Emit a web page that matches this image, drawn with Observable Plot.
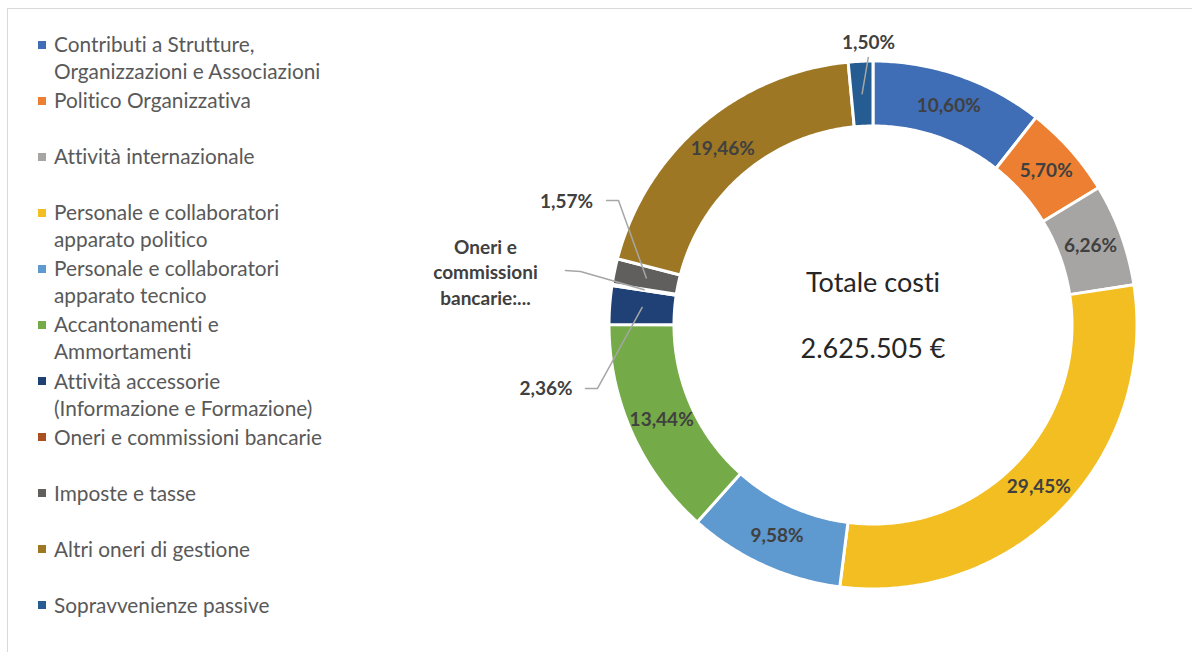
<!DOCTYPE html>
<html>
<head>
<meta charset="utf-8">
<script src="https://cdn.jsdelivr.net/npm/d3@7"></script>
<script src="https://cdn.jsdelivr.net/npm/@observablehq/plot@0.6"></script>
<style>
  body { margin: 0; background: #fff; }
  #wrap { position: relative; width: 1192px; height: 652px; overflow: hidden; font-family: Lato, sans-serif; font-variant-ligatures: none; }
  #frame { position: absolute; left: 7px; top: 8px; right: -10px; bottom: -10px; border-top: 1.5px solid #d9d9d9; border-left: 1.5px solid #d9d9d9; }
  #chart { position: absolute; left: 0; top: 0; }
  #chart svg text { font-variant-ligatures: none; }
  #legend { position: absolute; left: 38px; top: 30px; }
  .item { height: 56.1px; display: flex; align-items: flex-start; }
  .sw { width: 8px; height: 8px; margin-top: 10.5px; flex: none; }
  .txt { margin-left: 8px; line-height: 27px; font-size: 20.8px; color: #595959; white-space: pre; }
</style>
</head>
<body>
<div id="wrap">
  <div id="frame"></div>
  <div id="legend"></div>
  <div id="chart"></div>
</div>
<script>
// ---- data ----
const categories = [
  "Contributi a Strutture, Organizzazioni e Associazioni",
  "Politico Organizzativa",
  "Attività internazionale",
  "Personale e collaboratori apparato politico",
  "Personale e collaboratori apparato tecnico",
  "Accantonamenti e Ammortamenti",
  "Attività accessorie (Informazione e Formazione)",
  "Oneri e commissioni bancarie",
  "Imposte e tasse",
  "Altri oneri di gestione",
  "Sopravvenienze passive"
];
const legendLabels = [
  "Contributi a Strutture,\nOrganizzazioni e Associazioni",
  "Politico Organizzativa",
  "Attività internazionale",
  "Personale e collaboratori\napparato politico",
  "Personale e collaboratori\napparato tecnico",
  "Accantonamenti e\nAmmortamenti",
  "Attività accessorie\n(Informazione e Formazione)",
  "Oneri e commissioni bancarie",
  "Imposte e tasse",
  "Altri oneri di gestione",
  "Sopravvenienze passive"
];
const values = [10.60, 5.70, 6.26, 29.45, 9.58, 13.44, 2.36, 0.08, 1.57, 19.46, 1.50];
const colors = ["#3F6DB6", "#EC7F31", "#A6A5A3", "#F3BE21", "#5E99CF", "#74AA47", "#1F4176", "#A8501F", "#615F5E", "#9D7724", "#255C91"];
const centerTitle = "Totale costi";
const totalCosti = 2625505;

// callout (outside) label layout, in ring units (outer radius = 1)
const callouts = [
  {i: 10, lu: -0.017, lv: 1.074, anchor: "middle", path: [[-0.018, 1.013]]},
  {i: 8, lu: -1.060, lv: 0.466, anchor: "end", path: [[-1.009, 0.472], [-0.964, 0.472]]},
  {i: 7, lu: -1.468, lv: 0.203, anchor: "middle", path: [[-1.165, 0.206], [-1.108, 0.203]], text: "Oneri e\ncommissioni\nbancarie:..."},
  {i: 6, lu: -1.138, lv: -0.241, anchor: "end", path: [[-1.089, -0.241], [-1.044, -0.241]]}
];

// ---- legend ----
const legend = document.getElementById("legend");
categories.forEach((c, i) => {
  const it = document.createElement("div"); it.className = "item";
  const sw = document.createElement("div"); sw.className = "sw"; sw.style.background = colors[i];
  const tx = document.createElement("div"); tx.className = "txt"; tx.textContent = legendLabels[i];
  it.append(sw, tx); legend.append(it);
});

// ---- geometry ----
const W = 1192, H = 652, cx = 872.5, cy = 324.5, Rpx = 264;
const rIn = 199 / 264, rMid = (1 + rIn) / 2;
const rows = categories.map((name, i) => ({name, value: values[i], i}));
const arcs = d3.pie().sort(null).value(d => d.value)(rows);
const pct = v => v.toFixed(2).replace(".", ",") + "%";

const ringPts = arcs.flatMap(a => {
  const n = Math.max(2, Math.ceil((a.endAngle - a.startAngle) / 0.01));
  const ts = d3.range(n + 1).map(k => a.startAngle + (a.endAngle - a.startAngle) * k / n);
  const outer = ts.map(t => ({name: a.data.name, u: Math.sin(t), v: Math.cos(t)}));
  const inner = ts.slice().reverse().map(t => ({name: a.data.name, u: rIn * Math.sin(t), v: rIn * Math.cos(t)}));
  return [...outer, ...inner];
});

const centroids = arcs.map(a => {
  const t = (a.startAngle + a.endAngle) / 2;
  return {i: a.data.i, name: a.data.name, u: rMid * Math.sin(t), v: rMid * Math.cos(t), label: pct(a.data.value)};
});
const calloutIdx = new Set(callouts.map(c => c.i));
const insideLabels = centroids.filter(d => !calloutIdx.has(d.i));
const outsideLabels = callouts.map(c => ({u: c.lu, v: c.lv, anchor: c.anchor, label: c.text ?? centroids[c.i].label}));
const leaderPts = callouts.flatMap(c => [
  ...c.path.map(([u, v]) => ({id: c.i, u, v})),
  {id: c.i, u: centroids[c.i].u, v: centroids[c.i].v}
]);

const itFmt = d3.formatLocale({decimal: ",", thousands: ".", grouping: [3], currency: ["", " €"]}).format(",");
const centerTexts = [
  {u: 0, v: (cy - 283) / Rpx, label: centerTitle},
  {u: 0, v: (cy - 349) / Rpx, label: itFmt(totalCosti) + " €"}
];

const plot = Plot.plot({
  width: W, height: H,
  margin: 0,
  style: {background: "transparent", fontFamily: "Lato, sans-serif"},
  x: {domain: [-cx / Rpx, (W - cx) / Rpx], axis: null},
  y: {domain: [-(H - cy) / Rpx, cy / Rpx], axis: null},
  color: {domain: categories, range: colors},
  marks: [
    Plot.line(ringPts, {x: "u", y: "v", z: "name", fill: "name", stroke: "white", strokeWidth: 3, curve: "linear-closed"}),
    Plot.line(leaderPts, {x: "u", y: "v", z: "id", stroke: "#A6A6A6", strokeWidth: 1.5}),
    Plot.text(insideLabels, {x: "u", y: "v", text: "label", fontSize: 19, fontWeight: "bold", fill: "#404040"}),
    Plot.text(outsideLabels.filter(d => d.anchor === "end"), {x: "u", y: "v", text: "label", textAnchor: "end", fontSize: 19, fontWeight: "bold", fill: "#404040"}),
    Plot.text(outsideLabels.filter(d => d.anchor === "middle"), {x: "u", y: "v", text: "label", textAnchor: "middle", lineHeight: 1.32, fontSize: 19, fontWeight: "bold", fill: "#404040"}),
    Plot.text(centerTexts, {x: "u", y: "v", text: "label", fontSize: 27, fill: "#262626"})
  ]
});
document.getElementById("chart").append(plot);
</script>
</body>
</html>
